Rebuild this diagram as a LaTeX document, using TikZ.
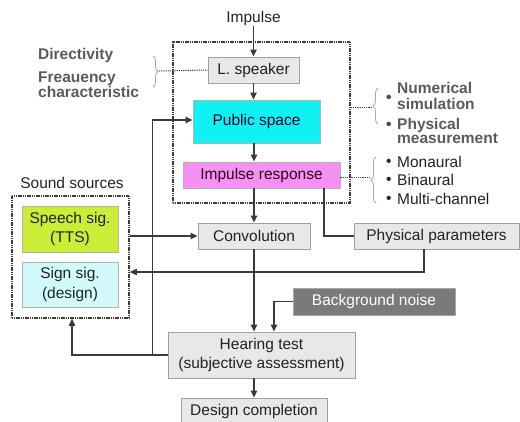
\documentclass[tikz,border=0pt]{standalone}
\usepackage{fontspec}
\setmainfont{Liberation Sans}
\usetikzlibrary{arrows.meta,decorations.pathreplacing}
\definecolor{boxgray}{HTML}{E8E8E8}
\definecolor{edgegray}{HTML}{A0A0A0}
\definecolor{linec}{HTML}{3A3A3A}
\definecolor{txt}{HTML}{222222}
\definecolor{labgray}{HTML}{5A5A5A}
\definecolor{pubc}{HTML}{10F2F2}
\definecolor{irc}{HTML}{F590F5}
\definecolor{spc}{HTML}{CAEE38}
\definecolor{sgc}{HTML}{D2FAFA}
\definecolor{bgc}{HTML}{7A7A7A}
\newcommand\fs{\fontsize{15.5}{19.5}\selectfont}
\newcommand\fb{\fontsize{15.5}{14.5}\selectfont\bfseries}
\tikzset{
  blk/.style={draw=edgegray, line width=0.9pt, fill=boxgray, inner sep=0pt, font=\fs, text=txt, align=center},
  arr/.style={draw=linec, line width=1.1pt, -{Triangle[length=7pt,width=6.5pt]}},
  ln/.style={draw=linec, line width=1.1pt},
  frame/.style={draw=linec, line width=1.7pt, dash pattern=on 1.2pt off 0.6pt, inner sep=0pt},
  dotl/.style={draw=linec, line width=1pt, dash pattern=on 1.2pt off 1pt},
  brc/.style={draw=gray!70, line width=0.8pt, decorate, decoration={brace, amplitude=5pt}},
  lab/.style={font=\fb, text=labgray, anchor=west, inner sep=0pt, align=left},
  lab2/.style={font=\fs, text=txt, anchor=west, inner sep=0pt},
}
\begin{document}
\begin{tikzpicture}[x=1pt,y=-1pt]
\useasboundingbox (0,0) rectangle (520,421);
% frames
\node[frame, minimum width=177pt, minimum height=161pt] (mainbox) at (261.5,122.5) {};
\node[frame, minimum width=117pt, minimum height=122pt] (ssbox) at (70.5,257) {};
% nodes
\node[font=\fs, text=txt, inner sep=1pt] (imp) at (253.5,18) {Impulse};
\node[blk, minimum width=91pt, minimum height=26pt] (lsp) at (253.5,70) {L. speaker};
\node[blk, fill=pubc, draw=gray!60, minimum width=127pt, minimum height=43pt, text=black!80!blue] (pub) at (256.5,121.5) {Public space};
\node[blk, fill=irc, draw=gray!60, minimum width=157pt, minimum height=26pt, text=black!75!purple] (ir) at (261.5,175) {Impulse response};
\node[blk, minimum width=112pt, minimum height=26pt] (conv) at (254,236) {Convolution};
\node[blk, minimum width=165pt, minimum height=26pt] (phys) at (436.5,236) {Physical parameters};
\node[blk, fill=bgc, draw=gray!70, text=white, minimum width=162pt, minimum height=27pt] (bg) at (374,301.5) {Background noise};
\node[blk, minimum width=187pt, minimum height=46pt] (hear) at (261.5,355) {Hearing test\\(subjective assessment)};
\node[blk, minimum width=146pt, minimum height=26pt] (des) at (254,411) {Design completion};
\node[blk, fill=spc, draw=gray!60, minimum width=96pt, minimum height=46pt] (sp) at (70,229) {Speech sig.\\(TTS)};
\node[blk, fill=sgc, draw=gray!60, minimum width=96pt, minimum height=45pt] (sg) at (70,284.5) {Sign sig.\\(design)};
\node[font=\fs, text=txt, inner sep=0pt] (sst) at (72,183) {Sound sources};
% connectors
\draw[arr] (imp.south) -- (lsp.north);
\draw[arr] (lsp.south) -- (lsp.south |- pub.north);
\draw[arr] (conv.north |- pub.south) -- (conv.north |- ir.north);
\draw[arr] (conv.north |- ir.south) -- (conv.north);
\draw[ln] ([xshift=62.5pt]ir.south) |- (phys.west);
\draw[arr] ([xshift=-12.5pt]phys.south) |- ([yshift=-15pt]ssbox.east);
\draw[arr] (ssbox.east |- conv.west) -- (conv.west);
\draw[arr] (conv.south) -- (conv.south |- hear.north);
\draw[arr] (bg.west) -| ([xshift=12.5pt]hear.north);
\draw[arr] (des.north |- hear.south) -- (des.north);
\draw[arr] (hear.west) -| ([xshift=1.5pt]ssbox.south);
\draw[arr] ([xshift=-15pt]hear.west) |- ([yshift=1.5pt]pub.west);
% left brace and labels
\node[lab] (dir) at (38,55) {Directivity};
\node[lab] (freq) at (38,84.5) {Freauency\\characteristic};
\draw[brc] (153,56) -- (153,87);
\coordinate (bl) at (159,71);
\draw[dotl] (bl) -- (lsp.west);
% right brace 1
\draw[brc] (378,124) -- (378,88);
\coordinate (br1) at (372,107);
\draw[dotl] (mainbox.east |- br1) -- (br1);
\node[lab, text=labgray!80!black] (b1) at (386,99) {\textbullet};
\node[lab] (num) at (397,88) {Numerical};
\node[lab] (sim) at (397,104) {simulation};
\node[lab, text=labgray!80!black] (b2) at (386,126) {\textbullet};
\node[lab] (phy) at (397,125) {Physical};
\node[lab] (mea) at (397,139) {measurement};
% right brace 2
\draw[brc] (376,203) -- (376,157);
\coordinate (br2) at (370,177);
\draw[dotl] (ir.east |- br2) -- (br2);
\node[lab2] (b3) at (386,163) {\textbullet};
\node[lab2] (mon) at (397,162) {Monaural};
\node[lab2] (b4) at (386,181) {\textbullet};
\node[lab2] (bin) at (397,180) {Binaural};
\node[lab2] (b5) at (386,200) {\textbullet};
\node[lab2] (mul) at (397,199) {Multi-channel};
\end{tikzpicture}
\end{document}
